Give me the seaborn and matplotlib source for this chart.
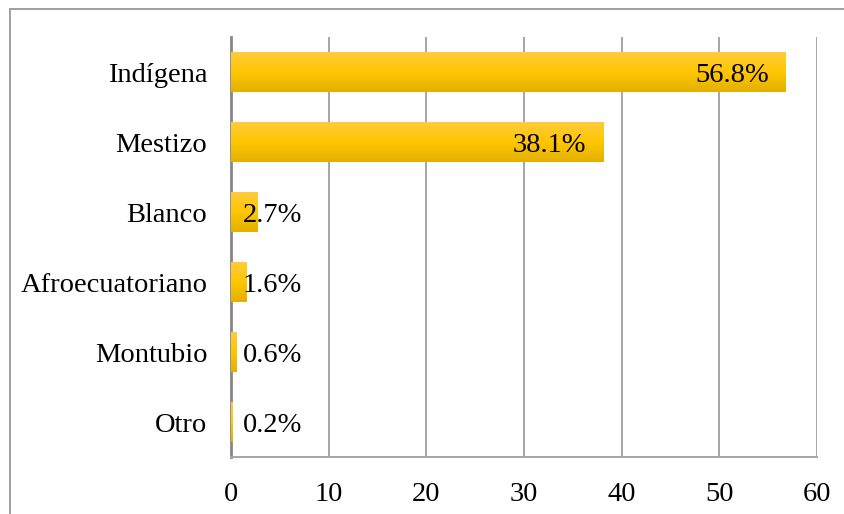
import numpy as np
import pandas as pd
import seaborn as sns
import matplotlib.pyplot as plt
from matplotlib.colors import LinearSegmentedColormap
from matplotlib.lines import Line2D

categorias = ['Indígena', 'Mestizo', 'Blanco', 'Afroecuatoriano', 'Montubio', 'Otro']
porcentajes = [56.8, 38.1, 2.7, 1.6, 0.6, 0.2]
etiquetas = ['56.8%', '38.1%', '2.7%', '1.6%', '0.6%', '0.2%']
ticks_x = [0, 10, 20, 30, 40, 50, 60]

df = pd.DataFrame({'grupo': categorias, 'pct': porcentajes})

sns.set_theme(style='white')
plt.rcParams['font.family'] = ['Liberation Serif', 'DejaVu Serif']
plt.rcParams['font.size'] = 20.5

fig = plt.figure(figsize=(8.45, 5.14), dpi=100)
ax = fig.add_axes([231/845, 1 - 457/514, (817 - 231)/845, (457 - 37)/514])

sns.barplot(data=df, y='grupo', x='pct', color='#FFC600', width=0.57,
            saturation=1, ax=ax, zorder=3)

# degradado vertical dentro de cada barra (claro arriba, oscuro abajo)
cmap = LinearSegmentedColormap.from_list('oro', ['#FFCB3C', '#FFC600', '#E3B000'])
grad = np.linspace(0, 1, 64).reshape(-1, 1)
for p in ax.patches:
    x0, y0 = p.get_x(), p.get_y()
    w, h = p.get_width(), p.get_height()
    im = ax.imshow(grad, cmap=cmap, aspect='auto', origin='upper',
                   extent=[x0, x0 + w, y0 + h, y0], zorder=4)
    im.set_clip_path(p)
    p.set_edgecolor('none')

ax.set_xlim(0, 60)
ax.set_ylim(len(categorias) - 0.5, -0.5)
ax.set_xticks(ticks_x)
ax.set_xticklabels([str(t) for t in ticks_x])
ax.set_xlabel('')
ax.set_ylabel('')
ax.tick_params(axis='both', length=0, labelsize=20.5, colors='black')
ax.tick_params(axis='x', pad=18)
ax.tick_params(axis='y', pad=17)

ax.xaxis.grid(True, color='#A6A6A6', linewidth=1.4, zorder=0)
ax.set_axisbelow(True)
for s in ['top', 'right']:
    ax.spines[s].set_visible(False)
ax.spines['left'].set_color('#868686')
ax.spines['left'].set_linewidth(2)
ax.spines['left'].set_zorder(2)
ax.spines['bottom'].set_color('#A6A6A6')
ax.spines['bottom'].set_linewidth(1.4)

# etiquetas de datos
for i, (v, lab) in enumerate(zip(porcentajes, etiquetas)):
    xr = max(v - 1.75, 7.3)
    ax.text(xr, i, lab, ha='right', va='center_baseline', fontsize=20.5,
            color='black', zorder=6)

# marco exterior del gráfico
fig.add_artist(Line2D([10.5/845, 10.5/845], [0, 1 - 9/514], transform=fig.transFigure,
                      color='#999999', linewidth=1.3))
fig.add_artist(Line2D([10.5/845, 1], [1 - 9/514, 1 - 9/514], transform=fig.transFigure,
                      color='#999999', linewidth=1.3))

fig.savefig('out.png', dpi=100)
